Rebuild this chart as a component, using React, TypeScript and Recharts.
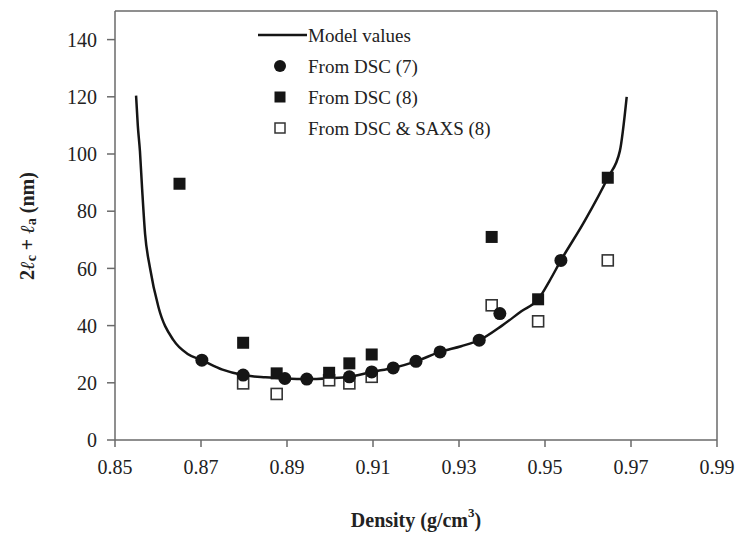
import {
  ComposedChart,
  Line,
  Scatter,
  XAxis,
  YAxis,
  ReferenceLine,
  Legend,
} from "recharts";

// model curve
const modelDensity = [
  0.8549, 0.8553, 0.8558, 0.8563, 0.857, 0.8581, 0.8601, 0.8636, 0.867, 0.8702, 0.875, 0.8798, 0.885, 0.8895,
  0.8946, 0.9, 0.9045, 0.9097, 0.9147, 0.92, 0.9256, 0.9305, 0.9347, 0.94, 0.9445, 0.9484, 0.951, 0.9537, 0.959,
  0.9646, 0.9674, 0.969,
];
const modelLength = [
  120.4, 110, 101, 88, 72, 60.5, 46.5, 34.9, 30, 27.9, 24.6, 22.7, 21.9, 21.5, 21.3, 21.6, 22.1, 23.8, 25.2, 27.5,
  30.8, 32.8, 34.9, 40, 45, 49.2, 55.5, 62.8, 76, 91.7, 101, 120,
];

// From DSC (7)
const dsc7Density = [0.8702, 0.8798, 0.8895, 0.8946, 0.9045, 0.9097, 0.9147, 0.92, 0.9256, 0.9347, 0.9395, 0.9537];
const dsc7Length = [27.9, 22.7, 21.5, 21.3, 22.1, 23.8, 25.2, 27.5, 30.8, 34.9, 44.2, 62.8];

// From DSC (8)
const dsc8Density = [0.865, 0.8798, 0.8876, 0.8998, 0.9045, 0.9097, 0.9376, 0.9484, 0.9646];
const dsc8Length = [89.6, 34.0, 23.3, 23.5, 26.8, 29.9, 71.0, 49.2, 91.7];

// From DSC & SAXS (8)
const saxsDensity = [0.8798, 0.8876, 0.8998, 0.9045, 0.9097, 0.9376, 0.9484, 0.9646];
const saxsLength = [19.8, 16.1, 20.9, 19.8, 22.1, 47.1, 41.5, 62.8];

const xTicks = [0.85, 0.87, 0.89, 0.91, 0.93, 0.95, 0.97, 0.99];
const yTicks = [0, 20, 40, 60, 80, 100, 120, 140];

const toPoints = (xs: number[], ys: number[]) => xs.map((x, i) => ({ x, y: ys[i] }));

const modelData = toPoints(modelDensity, modelLength);
const dsc7Data = toPoints(dsc7Density, dsc7Length);
const dsc8Data = toPoints(dsc8Density, dsc8Length);
const saxsData = toPoints(saxsDensity, saxsLength);

const FONT = "'Liberation Serif', 'Times New Roman', serif";
const AXIS = "#6a6a6a";
const INK = "#151515";

const Dot = (p: any) => <circle cx={p.cx} cy={p.cy} r={6.5} fill={INK} />;
const FilledSquare = (p: any) => <rect x={p.cx - 6} y={p.cy - 6} width={12} height={12} fill={INK} />;
const OpenSquare = (p: any) => (
  <rect x={p.cx - 5.5} y={p.cy - 5.5} width={11} height={11} fill="#fff" stroke="#333" strokeWidth={1.6} />
);

function LegendBox() {
  const textStyle = { fontFamily: FONT, fontSize: 19, fill: "#222" };
  return (
    <svg width={270} height={125}>
      <line x1={3} y1={15} x2={52} y2={15} stroke={INK} strokeWidth={2.5} />
      <text x={53} y={15} dy="0.35em" style={textStyle}>Model values</text>
      <circle cx={25} cy={46} r={6} fill={INK} />
      <text x={53} y={46} dy="0.35em" style={textStyle}>From DSC (7)</text>
      <rect x={19.5} y={71.5} width={11} height={11} fill={INK} />
      <text x={53} y={77} dy="0.35em" style={textStyle}>From DSC (8)</text>
      <rect x={20} y={103} width={10} height={10} fill="#fff" stroke="#333" strokeWidth={1.5} />
      <text x={53} y={108} dy="0.35em" style={textStyle}>From DSC &amp; SAXS (8)</text>
    </svg>
  );
}

function YTitle() {
  const cx = 27;
  const cy = 226;
  return (
    <text
      x={cx}
      y={cy}
      transform={`rotate(-90, ${cx}, ${cy})`}
      textAnchor="middle"
      dominantBaseline="central"
      style={{ fontFamily: FONT, fontSize: 20, fontWeight: 700, fill: "#222" }}
    >
      <tspan>2</tspan>
      <tspan fontStyle="italic">ℓ</tspan>
      <tspan fontSize={14} dy={4}>c</tspan>
      <tspan dy={-4}> + </tspan>
      <tspan fontStyle="italic">ℓ</tspan>
      <tspan fontSize={14} dy={4}>a</tspan>
      <tspan dy={-4}> (nm)</tspan>
    </text>
  );
}

function XTitle() {
  return (
    <text
      x={416}
      y={520}
      textAnchor="middle"
      dominantBaseline="central"
      style={{ fontFamily: FONT, fontSize: 20, fontWeight: 700, fill: "#222" }}
    >
      <tspan>Density (g/cm</tspan>
      <tspan fontSize={13} dy={-8}>3</tspan>
      <tspan dy={8}>)</tspan>
    </text>
  );
}

export default function App() {
  const tick = { fontFamily: FONT, fontSize: 20, fill: "#222" };
  return (
    <div style={{ position: "absolute", left: 0, top: 0, width: 737, height: 533, background: "#fff" }}>
      <ComposedChart width={737} height={533} margin={{ top: 11, right: 20, bottom: 33, left: 0 }}>
        <XAxis
          type="number"
          dataKey="x"
          domain={[0.85, 0.99]}
          ticks={xTicks}
          tickFormatter={(v: number) => v.toFixed(2)}
          allowDataOverflow
          height={60}
          stroke={AXIS}
          strokeWidth={1.5}
          tickSize={7}
          tickMargin={13}
          tick={tick}
          label={{ content: () => <XTitle /> }}
        />
        <YAxis
          type="number"
          dataKey="y"
          domain={[0, 150]}
          ticks={yTicks}
          allowDataOverflow
          width={115}
          stroke={AXIS}
          strokeWidth={1.5}
          tickSize={8}
          tickMargin={10}
          tick={tick}
          label={{ content: () => <YTitle /> }}
        />
        <ReferenceLine y={150} stroke={AXIS} strokeWidth={1.5} />
        <ReferenceLine x={0.99} stroke={AXIS} strokeWidth={1.5} />
        <Legend
          verticalAlign="middle"
          content={() => <LegendBox />}
          wrapperStyle={{ left: 255, top: 20, width: 270, height: 125 }}
        />
        <Line
          data={modelData}
          dataKey="y"
          type="monotone"
          stroke={INK}
          strokeWidth={2.5}
          dot={false}
          activeDot={false}
          isAnimationActive={false}
          name="Model values"
        />
        <Scatter data={saxsData} dataKey="y" shape={OpenSquare} isAnimationActive={false} name="From DSC & SAXS (8)" />
        <Scatter data={dsc8Data} dataKey="y" shape={FilledSquare} isAnimationActive={false} name="From DSC (8)" />
        <Scatter data={dsc7Data} dataKey="y" shape={Dot} isAnimationActive={false} name="From DSC (7)" />
      </ComposedChart>
    </div>
  );
}
